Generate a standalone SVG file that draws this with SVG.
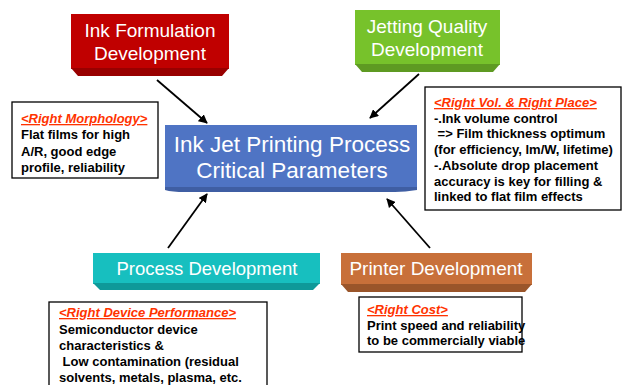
<svg xmlns="http://www.w3.org/2000/svg" width="623" height="385" viewBox="0 0 623 385">
<defs>
<marker id="ah" viewBox="0 0 10 10" refX="9" refY="5" markerWidth="9" markerHeight="9" markerUnits="userSpaceOnUse" orient="auto">
<path d="M0,0 L10,5 L0,10 z" fill="#000"/>
</marker>
<style>
.lbl{font-family:"Liberation Sans",Arial,sans-serif;fill:#fff;text-anchor:middle}
.note{fill:#fff;stroke:#000;stroke-width:1.3}
.hd{font-family:"Liberation Sans",Arial,sans-serif;font-weight:bold;font-style:italic;fill:#ff3300;text-decoration:underline;font-size:13px}
.bd{font-family:"Liberation Sans",Arial,sans-serif;font-weight:bold;fill:#000;font-size:13px}
.conn{stroke:#000;stroke-width:1.8;fill:none;marker-end:url(#ah)}
</style>
</defs>
<rect width="623" height="385" fill="#fff"/>

<g id="connectors">
<line class="conn" x1="157" y1="80" x2="207" y2="123"/>
<line class="conn" x1="419" y1="74" x2="370" y2="118"/>
<line class="conn" x1="168" y1="248" x2="207" y2="194"/>
<line class="conn" x1="430" y1="248" x2="387" y2="199"/>
</g>

<g id="ink-formulation">
<rect x="71" y="14" width="158" height="55" fill="#c00000"/>
<polygon points="71,68 229,68 222,76 78,76" fill="#990000"/>
<text class="lbl" x="150" y="37" font-size="19">Ink Formulation</text>
<text class="lbl" x="150" y="60" font-size="19">Development</text>
</g>

<g id="jetting-quality">
<rect x="355" y="10" width="145" height="55" fill="#77c22b"/>
<polygon points="355,64 500,64 493,72 362,72" fill="#5e9a22"/>
<text class="lbl" x="427" y="33" font-size="19">Jetting Quality</text>
<text class="lbl" x="427" y="56" font-size="19">Development</text>
</g>

<g id="center">
<rect x="165" y="125" width="252" height="63" fill="#4f74c4"/>
<path d="M165,187 L417,187 L417,190 Q405,192 395,192 L185,192 Q172,192 165,190 z" fill="#3f5ea3"/>
<text class="lbl" x="292" y="152" font-size="22.5">Ink Jet Printing Process</text>
<text class="lbl" x="292" y="178" font-size="22.5">Critical Parameters</text>
</g>

<g id="process-development">
<rect x="93" y="253" width="227" height="31" fill="#17bfbf"/>
<polygon points="93,283 320,283 313,290 100,290" fill="#0e9999"/>
<text class="lbl" x="207" y="275" font-size="18.5">Process Development</text>
</g>

<g id="printer-development">
<rect x="341" y="253" width="191" height="32" fill="#c8703a"/>
<polygon points="341,284 532,284 525,292 348,292" fill="#9a552a"/>
<text class="lbl" x="436" y="275" font-size="19">Printer Development</text>
</g>

<g id="note-morphology">
<rect class="note" x="12" y="102" width="146" height="76"/>
<text class="hd" x="21" y="123">&lt;Right Morphology&gt;</text>
<text class="bd" x="21" y="139">Flat films for high</text>
<text class="bd" x="21" y="156">A/R, good edge</text>
<text class="bd" x="21" y="172">profile, reliability</text>
</g>

<g id="note-vol-place">
<rect class="note" x="425" y="87" width="196" height="123"/>
<text class="hd" x="434" y="107">&lt;Right Vol. &amp; Right Place&gt;</text>
<text class="bd" x="434" y="122.5">-.Ink volume control</text>
<text class="bd" x="434" y="138" xml:space="preserve"> =&gt; Film thickness optimum</text>
<text class="bd" x="434" y="153.5">(for efficiency, lm/W, lifetime)</text>
<text class="bd" x="434" y="169.5">-.Absolute drop placement</text>
<text class="bd" x="434" y="185.5">accuracy is key for filling &amp;</text>
<text class="bd" x="434" y="201">linked to flat film effects</text>
</g>

<g id="note-device">
<rect class="note" x="49" y="302" width="218" height="90"/>
<text class="hd" x="59" y="317">&lt;Right Device Performance&gt;</text>
<text class="bd" x="59" y="334">Semiconductor device</text>
<text class="bd" x="59" y="350">characteristics &amp;</text>
<text class="bd" x="59" y="366" xml:space="preserve"> Low contamination (residual</text>
<text class="bd" x="59" y="382">solvents, metals, plasma, etc.</text>
</g>

<g id="note-cost">
<rect class="note" x="359" y="297" width="163" height="55"/>
<text class="hd" x="367" y="314">&lt;Right Cost&gt;</text>
<text class="bd" x="367" y="330" font-size="11.5">Print speed and reliability</text>
<text class="bd" x="367" y="345" font-size="11.5">to be commercially viable</text>
</g>
</svg>
